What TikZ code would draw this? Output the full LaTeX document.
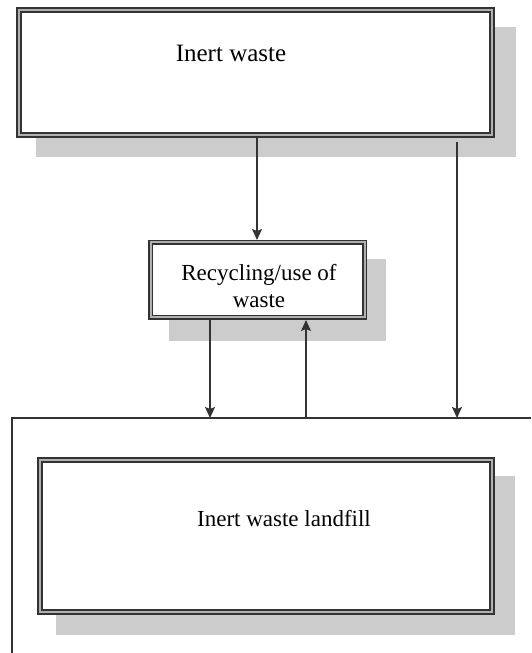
\documentclass[tikz,border=0pt]{standalone}
\usepackage{fontspec}
\setmainfont{Liberation Serif}
\usetikzlibrary{arrows.meta}
\definecolor{linec}{HTML}{333333}
\definecolor{gapc}{HTML}{B0B0B0}
\definecolor{shadec}{HTML}{CCCCCC}
\begin{document}
\begin{tikzpicture}[x=1pt,y=1pt,
  dbox/.style={draw=linec, line width=1.6pt, double=gapc, double distance=2.4pt, fill=white, rectangle, inner sep=0pt},
  shadowbox/.style={fill=shadec, draw=none, rectangle, inner sep=0pt},
  lbl/.style={font=\fontsize{23}{27}\selectfont, align=center, inner sep=0pt, text=black},
  conn/.style={draw=linec, line width=1.2pt},
  arr/.style={conn, -{Stealth[length=11pt,width=10pt,inset=2pt]}}]
\useasboundingbox (0,0) rectangle (531,653);
% shadows
\node[shadowbox, minimum width=480, minimum height=130] (topsh) at (276,561) {};
\node[shadowbox, minimum width=217, minimum height=82] (recsh) at (277.5,353) {};
\node[shadowbox, minimum width=459, minimum height=159] (lfsh) at (285.5,97.5) {};
% outer open frame
\coordinate (fr) at (531,235);
\coordinate (fc) at (12,235);
\coordinate (fb) at (12,0);
\draw[conn] (fr) -- (fc) -- (fb);
% boxes
\node[dbox, minimum width=473, minimum height=125] (top) at (255.5,580.5) {};
\node[dbox, line width=1.4pt, double distance=2pt, minimum width=214, minimum height=75] (rec) at (257.5,373) {};
\node[dbox, minimum width=452, minimum height=152] (lf) at (266,117) {};
% texts
\node[lbl, font=\fontsize{25}{29}\selectfont] (toptxt) at (231,600) {Inert waste};
\node[lbl] (rectxt) at (259,367) {Recycling/use of\\waste};
\node[lbl] (lftxt) at (284,134) {Inert waste landfill};
% connector end points
\coordinate (a1s) at (257,516);
\coordinate (a1e) at (257,413);
\coordinate (a2s) at (457,511);
\coordinate (a2e) at (457,235);
\coordinate (a3s) at (210,333);
\coordinate (a3e) at (210,235);
\coordinate (a4s) at (306,235);
\coordinate (a4e) at (306,333);
\draw[arr] (a1s) -- (a1e);
\draw[arr] (a2s) -- (a2e);
\draw[arr] (a3s) -- (a3e);
\draw[arr] (a4s) -- (a4e);
\end{tikzpicture}
\end{document}
